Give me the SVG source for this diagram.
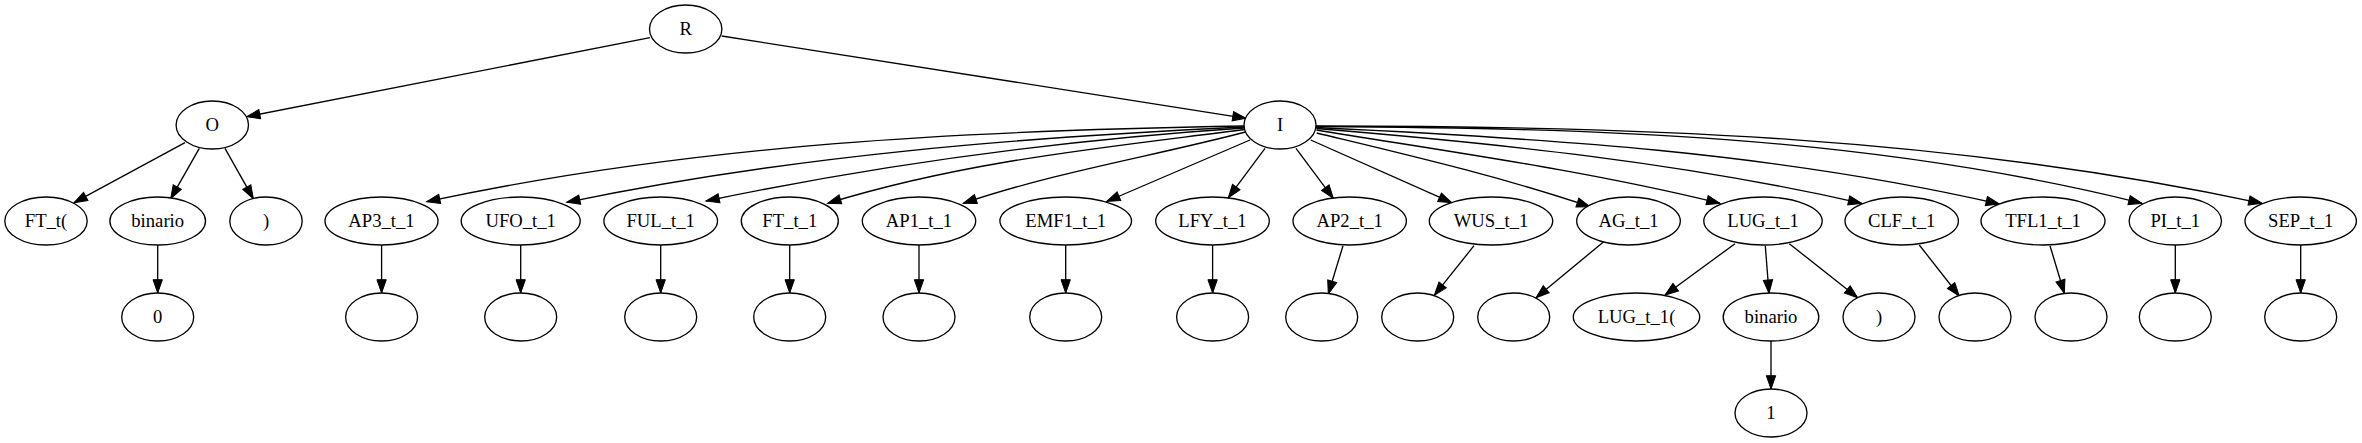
<svg xmlns="http://www.w3.org/2000/svg" width="2362" height="443" viewBox="0 0 2362 443">
<style>
.n ellipse{fill:#fff;stroke:#000;stroke-width:1.33}
.n text{font-family:"Liberation Serif","Times New Roman",serif;font-size:18.67px;text-anchor:middle;fill:#000}
#connectors path{fill:none;stroke:#000;stroke-width:1.33;marker-end:url(#ah)}
</style>
<defs>
<marker id="ah" markerUnits="userSpaceOnUse" markerWidth="16" markerHeight="12" viewBox="0 -6 14 12" refX="13.3" refY="0" orient="auto">
<path d="M0,-4.67 L13.3,0 L0,4.67 z" fill="#000" stroke="#000" stroke-width="1"/>
</marker>
</defs>
<rect width="2362" height="443" fill="#fff"/>
<g id="connectors">
<path d="M650,37.7 L246.7,116.7"/>
<path d="M721.7,36 L1246,118.3"/>
<path d="M185,142.7 L74,202.7"/>
<path d="M199.3,148.3 L170.7,198.7"/>
<path d="M225,148.3 L253.3,198.7"/>
<path d="M157.7,245 L157.7,293"/>
<path d="M1244,126 C971.6,130.6 699.1,143.3 426.7,201.7"/>
<path d="M1244,127 C1018.2,137.6 792.5,155.4 566.7,202.3"/>
<path d="M1244,128 C1064.7,139.9 885.3,163.7 706,201"/>
<path d="M1244.5,129.5 C1105.6,147.5 966.6,160.5 827.7,203.3"/>
<path d="M1245.5,132 C1151.4,156.7 1057.4,171.5 963.3,203.3"/>
<path d="M1250,140 L1106.7,201.5"/>
<path d="M1265,148.3 L1228.3,197.7"/>
<path d="M1296,148.3 L1333.3,198.3"/>
<path d="M1310.7,140 L1451.7,202.7"/>
<path d="M1316.7,133 C1407.8,155 1498.9,176 1590,206.7"/>
<path d="M1316.5,130 C1451,152 1585.5,170.3 1720,203.3"/>
<path d="M1316.3,128.5 C1498.1,143.5 1679.9,162.2 1861.7,203.3"/>
<path d="M1316,127.5 C1543.8,138.4 1771.5,151.8 1999.3,204"/>
<path d="M1316,126.5 C1591.3,128.3 1866.7,134.7 2142,203.3"/>
<path d="M1316,126 C1631.3,126.1 1946.7,135.8 2262,203.3"/>
<path d="M381.6,245 L381.6,293"/>
<path d="M520.7,245 L520.7,293"/>
<path d="M660.7,245 L660.7,293"/>
<path d="M789.7,245 L789.7,293"/>
<path d="M919,245 L919,293"/>
<path d="M1065.7,245 L1065.7,293"/>
<path d="M1212.6,245 L1212.6,293"/>
<path d="M1343,245.7 L1328.3,294"/>
<path d="M1474,245.7 L1434.3,295.3"/>
<path d="M1603.4,242 L1536,297.7"/>
<path d="M1735,243.7 L1665,295"/>
<path d="M1765.3,245.7 L1769,293.3"/>
<path d="M1789.3,243.7 L1857.7,297.7"/>
<path d="M1771,341 L1771,389"/>
<path d="M1919.3,245 L1959.3,296"/>
<path d="M2050,245.7 L2064.3,293.3"/>
<path d="M2175.3,245 L2175.3,293"/>
<path d="M2300.7,245 L2300.7,293"/>
</g>
<g id="R" class="n"><ellipse cx="685.7" cy="29" rx="36.2" ry="24"/><text x="685.7" y="35">R</text></g>
<g id="O" class="n"><ellipse cx="212.3" cy="125" rx="36.2" ry="24"/><text x="212.3" y="131">O</text></g>
<g id="I" class="n"><ellipse cx="1280" cy="125" rx="36" ry="24"/><text x="1280" y="131">I</text></g>
<g id="FT_t_open" class="n"><ellipse cx="46" cy="221" rx="41.2" ry="24"/><text x="46" y="227">FT_t(</text></g>
<g id="binario_0" class="n"><ellipse cx="157.7" cy="221" rx="47.8" ry="24"/><text x="157.7" y="227">binario</text></g>
<g id="close_0" class="n"><ellipse cx="266" cy="221" rx="36.2" ry="24"/><text x="266" y="227">)</text></g>
<g id="zero" class="n"><ellipse cx="157.7" cy="317" rx="36" ry="24"/><text x="157.7" y="323">0</text></g>
<g id="AP3_t_1" class="n"><ellipse cx="381.5" cy="221" rx="56.5" ry="24"/><text x="381.5" y="227">AP3_t_1</text></g>
<g id="UFO_t_1" class="n"><ellipse cx="520.7" cy="221" rx="59.5" ry="24"/><text x="520.7" y="227">UFO_t_1</text></g>
<g id="FUL_t_1" class="n"><ellipse cx="660.7" cy="221" rx="56.8" ry="24"/><text x="660.7" y="227">FUL_t_1</text></g>
<g id="FT_t_1" class="n"><ellipse cx="789.8" cy="221" rx="48.5" ry="24"/><text x="789.8" y="227">FT_t_1</text></g>
<g id="AP1_t_1" class="n"><ellipse cx="919" cy="221" rx="56.7" ry="24"/><text x="919" y="227">AP1_t_1</text></g>
<g id="EMF1_t_1" class="n"><ellipse cx="1065.7" cy="221" rx="65.8" ry="24"/><text x="1065.7" y="227">EMF1_t_1</text></g>
<g id="LFY_t_1" class="n"><ellipse cx="1212.5" cy="221" rx="56.8" ry="24"/><text x="1212.5" y="227">LFY_t_1</text></g>
<g id="AP2_t_1" class="n"><ellipse cx="1349.7" cy="221" rx="56.7" ry="24"/><text x="1349.7" y="227">AP2_t_1</text></g>
<g id="WUS_t_1" class="n"><ellipse cx="1491" cy="221" rx="61.7" ry="24"/><text x="1491" y="227">WUS_t_1</text></g>
<g id="AG_t_1" class="n"><ellipse cx="1628.5" cy="221" rx="51.8" ry="24"/><text x="1628.5" y="227">AG_t_1</text></g>
<g id="LUG_t_1" class="n"><ellipse cx="1763" cy="221" rx="59.2" ry="24"/><text x="1763" y="227">LUG_t_1</text></g>
<g id="CLF_t_1" class="n"><ellipse cx="1901.7" cy="221" rx="56.7" ry="24"/><text x="1901.7" y="227">CLF_t_1</text></g>
<g id="TFL1_t_1" class="n"><ellipse cx="2043" cy="221" rx="62" ry="24"/><text x="2043" y="227">TFL1_t_1</text></g>
<g id="PI_t_1" class="n"><ellipse cx="2175.3" cy="221" rx="46.2" ry="24"/><text x="2175.3" y="227">PI_t_1</text></g>
<g id="SEP_t_1" class="n"><ellipse cx="2300.7" cy="221" rx="55.7" ry="24"/><text x="2300.7" y="227">SEP_t_1</text></g>
<g id="AP3_empty" class="n"><ellipse cx="381.6" cy="317" rx="36" ry="24"/></g>
<g id="UFO_empty" class="n"><ellipse cx="520.7" cy="317" rx="36" ry="24"/></g>
<g id="FUL_empty" class="n"><ellipse cx="660.7" cy="317" rx="36" ry="24"/></g>
<g id="FT_empty" class="n"><ellipse cx="789.7" cy="317" rx="36" ry="24"/></g>
<g id="AP1_empty" class="n"><ellipse cx="919" cy="317" rx="36" ry="24"/></g>
<g id="EMF1_empty" class="n"><ellipse cx="1065.7" cy="317" rx="36" ry="24"/></g>
<g id="LFY_empty" class="n"><ellipse cx="1212.6" cy="317" rx="36" ry="24"/></g>
<g id="AP2_empty" class="n"><ellipse cx="1321.7" cy="317" rx="36" ry="24"/></g>
<g id="WUS_empty" class="n"><ellipse cx="1417.7" cy="317" rx="36" ry="24"/></g>
<g id="AG_empty" class="n"><ellipse cx="1513.7" cy="317" rx="36" ry="24"/></g>
<g id="LUG_t_1_open" class="n"><ellipse cx="1636.5" cy="317" rx="63.2" ry="24"/><text x="1636.5" y="323">LUG_t_1(</text></g>
<g id="binario_1" class="n"><ellipse cx="1771" cy="317" rx="47.8" ry="24"/><text x="1771" y="323">binario</text></g>
<g id="close_1" class="n"><ellipse cx="1879" cy="317" rx="36" ry="24"/><text x="1879" y="323">)</text></g>
<g id="CLF_empty" class="n"><ellipse cx="1975" cy="317" rx="36" ry="24"/></g>
<g id="TFL1_empty" class="n"><ellipse cx="2071" cy="317" rx="36" ry="24"/></g>
<g id="PI_empty" class="n"><ellipse cx="2175.3" cy="317" rx="36" ry="24"/></g>
<g id="SEP_empty" class="n"><ellipse cx="2300.7" cy="317" rx="36" ry="24"/></g>
<g id="one" class="n"><ellipse cx="1771" cy="413" rx="36" ry="24"/><text x="1771" y="419">1</text></g>
</svg>
